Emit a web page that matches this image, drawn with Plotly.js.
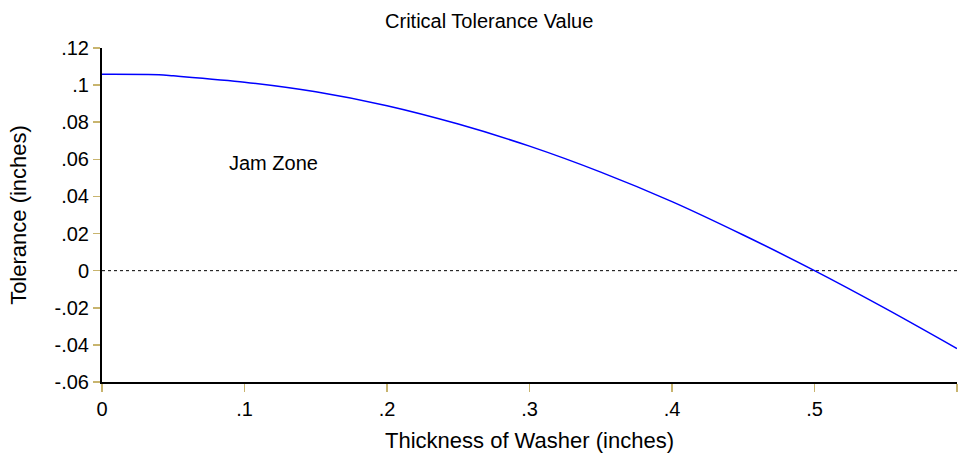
<!DOCTYPE html>
<html>
<head>
<meta charset="utf-8">
<script src="https://cdn.plot.ly/plotly-3.0.1.min.js"></script>
<style>html,body{margin:0;padding:0;background:#fff;}#chart{width:963px;height:462px;}</style>
</head>
<body>
<div id="chart"></div>
<script>
var thickness = [0, 0.04, 0.05, 0.1, 0.15, 0.2, 0.25, 0.3, 0.35, 0.4, 0.45, 0.5, 0.55, 0.6];
var tolerance = [0.1058, 0.1056, 0.1050, 0.1016, 0.0964, 0.0889, 0.0790, 0.0671, 0.0531, 0.0372, 0.0192, 0.0000, -0.0205, -0.0420];
var zeroX = [0, 0.6];
var zeroY = [0, 0];
var xTickVals = [0, 0.1, 0.2, 0.3, 0.4, 0.5, 0.6];
var xTickText = ['0', '.1', '.2', '.3', '.4', '.5', '.6'];
var yTickVals = [-0.06, -0.04, -0.02, 0, 0.02, 0.04, 0.06, 0.08, 0.1, 0.12];
var yTickText = ['-.06', '-.04', '-.02', '0', '.02', '.04', '.06', '.08', '.1', '.12'];
var noteText = 'Jam Zone';
var noteX = 0.12;
var noteY = 0.0579;

var font = 'Liberation Sans, Arial, sans-serif';
var data = [
  {x: zeroX, y: zeroY, mode: 'lines', line: {color: '#000', width: 1, dash: 'dot'}, hoverinfo: 'skip'},
  {x: thickness, y: tolerance, mode: 'lines', line: {color: '#0000ff', width: 1.5, shape: 'spline', smoothing: 0.8}}
];
var layout = {
  width: 963, height: 462,
  margin: {l: 102, r: 6, t: 48, b: 80},
  paper_bgcolor: '#fff', plot_bgcolor: '#fff',
  showlegend: false,
  font: {family: font, size: 20, color: '#000'},
  title: {text: 'Critical Tolerance Value', x: 0.508, xref: 'container', xanchor: 'center', y: 0.955, yanchor: 'middle', font: {family: font, size: 20, color: '#000'}},
  xaxis: {
    range: [0, 0.6], showgrid: false, zeroline: false,
    showline: true, linecolor: '#000', linewidth: 2,
    ticks: 'outside', ticklen: 8, tickwidth: 1.5, tickcolor: '#c8b46e',
    tickvals: xTickVals, ticktext: xTickText,
    tickfont: {family: font, size: 20, color: '#000'},
    title: {text: 'Thickness of Washer (inches)', font: {family: font, size: 22, color: '#000'}, standoff: 14}
  },
  yaxis: {
    range: [-0.06, 0.12], showgrid: false, zeroline: false,
    showline: true, linecolor: '#000', linewidth: 2,
    ticks: 'outside', ticklen: 7, tickwidth: 1.5, tickcolor: '#c8b46e',
    tickvals: yTickVals, ticktext: yTickText,
    tickfont: {family: font, size: 20, color: '#000'},
    title: {text: 'Tolerance (inches)', font: {family: font, size: 22, color: '#000'}, standoff: 22}
  },
  annotations: [{x: noteX, y: noteY, xref: 'x', yref: 'y', text: noteText, showarrow: false, font: {family: font, size: 20, color: '#000'}}]
};
Plotly.newPlot('chart', data, layout, {displayModeBar: false, staticPlot: true});
</script>
</body>
</html>
